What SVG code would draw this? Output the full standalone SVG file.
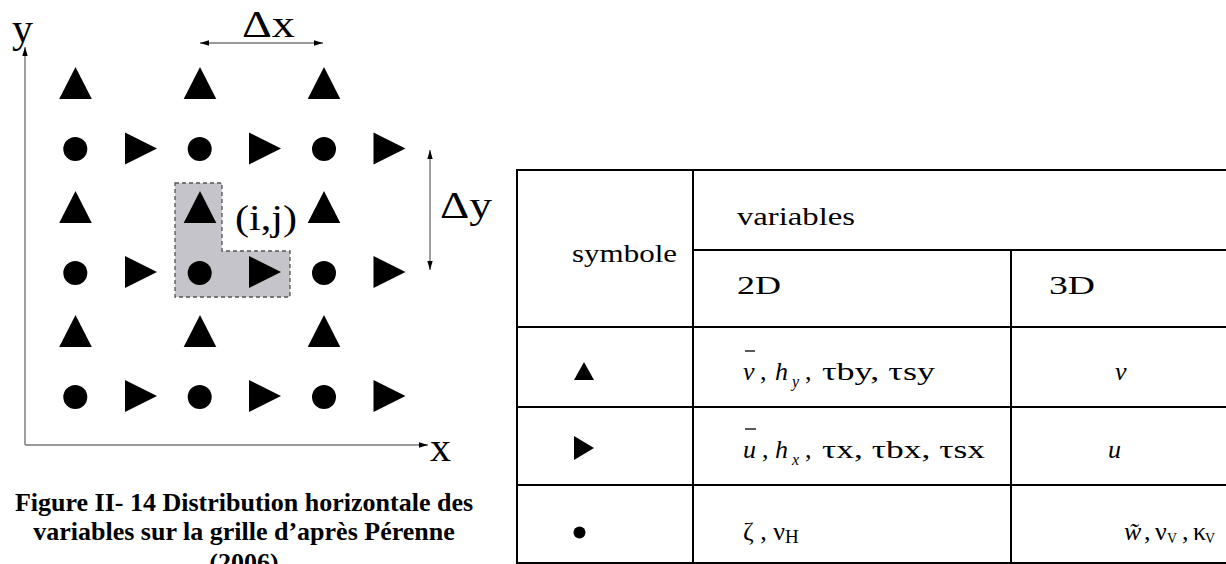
<svg xmlns="http://www.w3.org/2000/svg" width="1226" height="564" viewBox="0 0 1226 564">
<style>
.ser{font-family:"Liberation Serif","Times New Roman",serif;fill:#000}
.ax{stroke:#777;stroke-width:1.4;fill:none}
.sh{fill:#000}
.tl{stroke:#000;stroke-width:2;fill:none}
.tt{font-family:"Liberation Serif","Times New Roman",serif;font-size:26px;fill:#000}
.it{font-style:italic}
.cap{font-family:"Liberation Serif","Times New Roman",serif;font-weight:bold;font-size:26px;fill:#000;text-anchor:middle}
</style>
<defs>
<marker id="ah" viewBox="0 0 10 6" refX="10" refY="3" markerWidth="9" markerHeight="6" markerUnits="userSpaceOnUse" orient="auto-start-reverse">
<path d="M0,0 L10,3 L0,6 Z" fill="#000"/>
</marker>
<polygon id="up" points="-16.3,32 0,0 16.3,32"/>
<polygon id="rt" points="0,-16 32,0 0,16"/>
</defs>
<rect width="1226" height="564" fill="#fff"/>

<g id="cell-highlight">
<path d="M175,183 H222 V251 H290 V297 H175 Z" fill="#c4c4ca" stroke="#555" stroke-width="1.3" stroke-dasharray="4 3"/>
</g>

<g id="connectors">
<line class="ax" x1="25" y1="445" x2="25" y2="47" marker-end="url(#ah)"/>
<line class="ax" x1="25" y1="445" x2="428" y2="445" marker-end="url(#ah)"/>
<line class="ax" x1="200" y1="43" x2="323" y2="43" marker-start="url(#ah)" marker-end="url(#ah)"/>
<line class="ax" x1="430" y1="150" x2="430" y2="270" marker-start="url(#ah)" marker-end="url(#ah)"/>
</g>

<g id="labels">
<text class="ser" x="12" y="42" font-size="42">y</text>
<text class="ser" x="430" y="461" font-size="42">x</text>
<text class="ser" x="242" y="37" font-size="38" textLength="53" lengthAdjust="spacingAndGlyphs">Δx</text>
<text class="ser" x="440" y="218" font-size="38" textLength="52" lengthAdjust="spacingAndGlyphs">Δy</text>
<text class="ser" x="235" y="230" font-size="35" textLength="62" lengthAdjust="spacingAndGlyphs">(i,j)</text>
</g>

<g id="grid-up" class="sh">
<use href="#up" x="75.5" y="67"/><use href="#up" x="200" y="67"/><use href="#up" x="324" y="67"/>
<use href="#up" x="75.5" y="191"/><use href="#up" x="200" y="191"/><use href="#up" x="324" y="191"/>
<use href="#up" x="75.5" y="315"/><use href="#up" x="200" y="315"/><use href="#up" x="324" y="315"/>
</g>
<g id="grid-right" class="sh">
<use href="#rt" x="125" y="148.5"/><use href="#rt" x="249" y="148.5"/><use href="#rt" x="373.5" y="148.5"/>
<use href="#rt" x="125" y="272"/><use href="#rt" x="249" y="272"/><use href="#rt" x="373.5" y="272"/>
<use href="#rt" x="125" y="396"/><use href="#rt" x="249" y="396"/><use href="#rt" x="373.5" y="396"/>
</g>
<g id="grid-dot" class="sh">
<circle cx="75.3" cy="149" r="12"/><circle cx="199.7" cy="149" r="12"/><circle cx="324" cy="149" r="12"/>
<circle cx="75.3" cy="273" r="12"/><circle cx="199.7" cy="273" r="12"/><circle cx="324" cy="273" r="12"/>
<circle cx="75.3" cy="397" r="12"/><circle cx="199.7" cy="397" r="12"/><circle cx="324" cy="397" r="12"/>
</g>

<g id="caption">
<text class="cap" x="244" y="511">Figure II- 14 Distribution horizontale des</text>
<text class="cap" x="244" y="540">variables sur la grille d’après Pérenne</text>
<text class="cap" x="244" y="571">(2006)</text>
</g>

<g id="table">
<g id="table-lines">
<path class="tl" d="M1226,170 H517 V563 H1226"/>
<line class="tl" x1="693" y1="170" x2="693" y2="563"/>
<line class="tl" x1="693" y1="250" x2="1226" y2="250"/>
<line class="tl" x1="1011" y1="250" x2="1011" y2="563"/>
<line class="tl" x1="517" y1="327" x2="1226" y2="327"/>
<line class="tl" x1="517" y1="407" x2="1226" y2="407"/>
<line class="tl" x1="517" y1="485" x2="1226" y2="485"/>
</g>
<g id="header">
<text class="tt" x="572" y="262" textLength="105" lengthAdjust="spacingAndGlyphs">symbole</text>
<text class="tt" x="737" y="225" textLength="118" lengthAdjust="spacingAndGlyphs">variables</text>
<text class="tt" x="737" y="294" textLength="44" lengthAdjust="spacingAndGlyphs">2D</text>
<text class="tt" x="1049" y="294" textLength="46" lengthAdjust="spacingAndGlyphs">3D</text>
</g>
<g id="row-v">
<polygon class="sh" points="574,380 584,362 594,380"/>
<line x1="745" y1="351" x2="755" y2="351" stroke="#000" stroke-width="1.3"/>
<text class="tt"><tspan class="it" x="743" y="380">v</tspan><tspan x="760" y="380">,</tspan><tspan class="it" x="775" y="380">h</tspan><tspan class="it" x="792" y="387" font-size="16">y</tspan><tspan x="805" y="380">,</tspan></text>
<text class="tt" x="822" y="380" textLength="113" lengthAdjust="spacingAndGlyphs">τby, τsy</text>
<text class="tt it" x="1115" y="380">v</text>
</g>
<g id="row-u">
<polygon class="sh" points="574,436 594,448 574,460"/>
<line x1="745" y1="429" x2="756" y2="429" stroke="#000" stroke-width="1.3"/>
<text class="tt"><tspan class="it" x="743" y="458">u</tspan><tspan x="762" y="458">,</tspan><tspan class="it" x="775" y="458">h</tspan><tspan class="it" x="792" y="465" font-size="16">x</tspan><tspan x="805" y="458">,</tspan></text>
<text class="tt" x="822" y="458" textLength="163" lengthAdjust="spacingAndGlyphs">τx, τbx, τsx</text>
<text class="tt it" x="1108" y="458">u</text>
</g>
<g id="row-zeta">
<circle class="sh" cx="579.5" cy="532.5" r="6"/>
<text class="tt"><tspan x="743" y="540">ζ , ν</tspan><tspan x="785" y="543" font-size="19">H</tspan></text>
<text class="tt" font-size="23"><tspan class="it" x="1124" y="540">w̃</tspan><tspan x="1144" y="540">,</tspan><tspan x="1155" y="540">ν</tspan><tspan x="1167" y="543" font-size="14">V</tspan><tspan x="1182" y="540">,</tspan><tspan x="1193" y="540">κ</tspan><tspan x="1205" y="543" font-size="14">V</tspan></text>
</g>
</g>
</svg>
